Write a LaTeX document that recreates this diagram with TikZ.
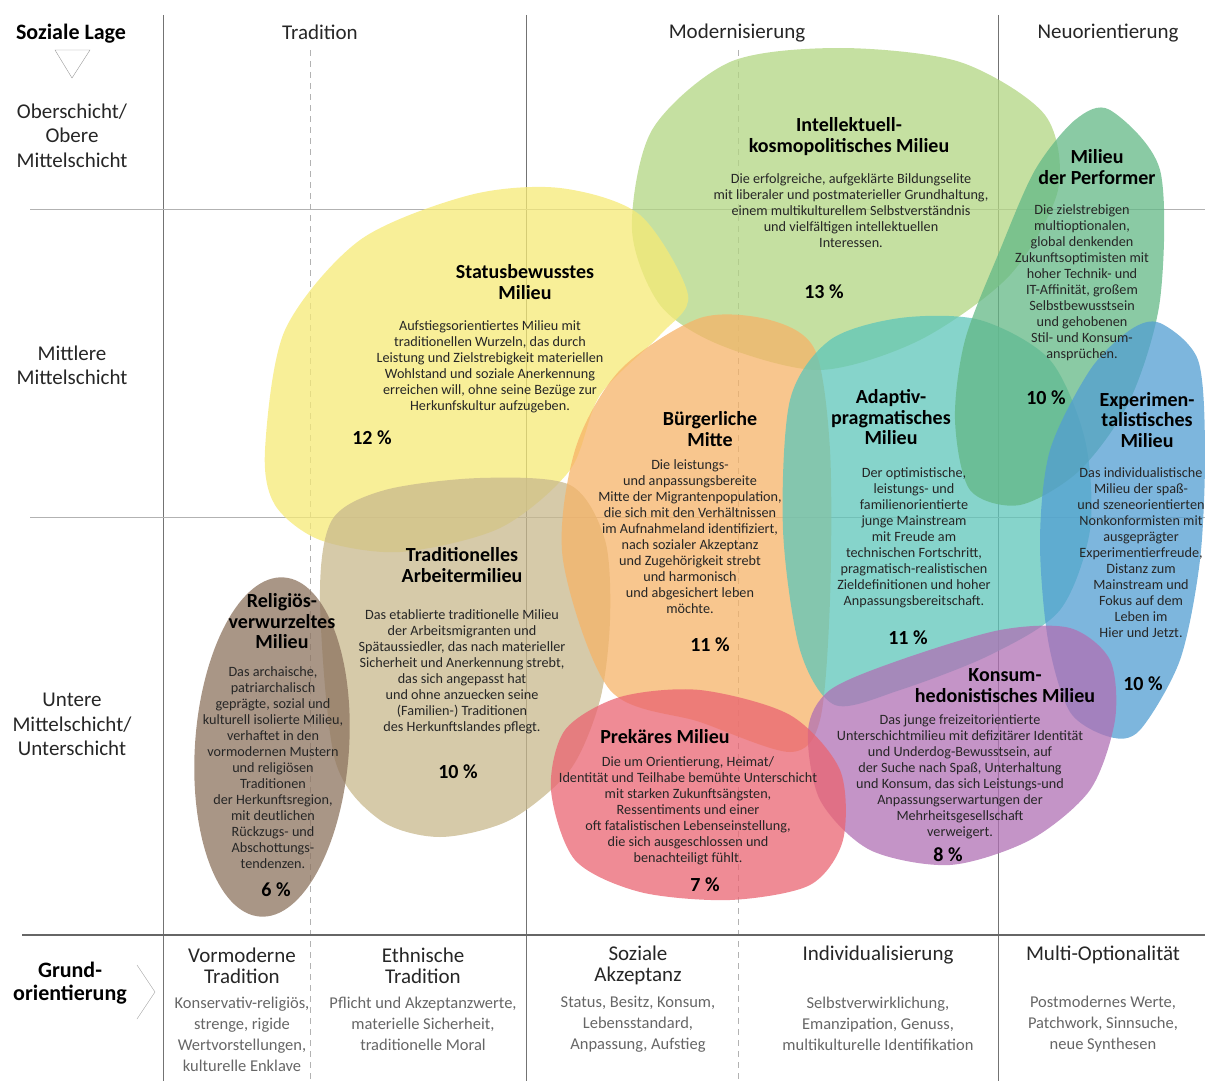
\documentclass[tikz,border=0pt]{standalone}
\usepackage{fontspec}
\setmainfont{Carlito}
\definecolor{intellgreen}{HTML}{B2D682}
\definecolor{perfgreen}{HTML}{63B886}
\definecolor{statusyellow}{HTML}{F6EA76}
\definecolor{arbeitertan}{HTML}{C8B88C}
\definecolor{religbrown}{HTML}{8C735E}
\definecolor{buergerorange}{HTML}{F6B368}
\definecolor{adaptivteal}{HTML}{5EC6BA}
\definecolor{experblue}{HTML}{529ED2}
\definecolor{konsumpurple}{HTML}{B070B4}
\definecolor{prekaerred}{HTML}{EA6471}

\begin{document}
\begin{tikzpicture}[x=1pt,y=-1pt,
    ttl/.style={font=\fontsize{20}{20.5}\selectfont\bfseries,align=center,inner sep=0pt},
    txt/.style={font=\fontsize{14.2}{16}\selectfont,align=center,inner sep=0pt,text=black!85},
    pct/.style={font=\fontsize{20}{20}\selectfont\bfseries,inner sep=0pt},
    hdr/.style={font=\fontsize{21}{24.5}\selectfont,align=center,inner sep=0pt,text=black!85},
    sub/.style={font=\fontsize{16.5}{21}\selectfont,align=center,inner sep=0pt,text=black!60},
    grid/.style={draw=black!30,line width=0.8pt},
    axis/.style={draw=black!55,line width=0.8pt},
    blob/.style={fill opacity=0.75}]
\useasboundingbox (0,0) rectangle (1205,1081);

\draw[axis] (163,15) -- (163,1081);
\draw[axis] (526,15) -- (526,1081);
\draw[axis] (998,15) -- (998,1081);
\draw[grid,dash pattern=on 6pt off 5pt] (310,50) -- (310,1081);
\draw[grid,dash pattern=on 6pt off 5pt] (738,50) -- (738,1081);
\draw[grid] (30,209) -- (1205,209);
\draw[grid] (30,517) -- (1205,517);
\draw[draw=black!60,line width=1.2pt] (22,935) -- (1205,935);

\fill[blob,intellgreen] plot[smooth cycle] coordinates {(632,230) (652,130) (730,62) (840,48) (960,62) (1045,115) (1058,190) (1010,275) (920,340) (820,370) (720,345) (660,305)};
\fill[blob,statusyellow] plot[smooth cycle] coordinates {(265,450) (285,330) (360,240) (470,195) (560,188) (640,215) (688,295) (660,335) (600,395) (570,470) (500,528) (400,552) (320,540) (275,505)};
\fill[blob,arbeitertan] plot[smooth cycle] coordinates {(320,600) (332,520) (385,490) (480,478) (570,485) (605,540) (610,620) (600,700) (570,770) (510,820) (440,837) (380,820) (335,760)};
\fill[blob,religbrown,rotate around={-4:(272,747)}] (272,747) ellipse [x radius=77, y radius=170];
\fill[blob,buergerorange] plot[smooth cycle] coordinates {(575,450) (620,370) (700,318) (770,320) (815,350) (830,450) (830,600) (820,720) (790,752) (700,722) (610,690) (563,560)};
\fill[blob,adaptivteal] plot[smooth cycle] coordinates {(790,400) (830,340) (900,318) (980,320) (1050,360) (1085,440) (1090,530) (1060,610) (990,655) (900,690) (835,705) (800,650) (783,530)};
\fill[blob,perfgreen] plot[smooth cycle] coordinates {(1110,110) (1160,170) (1160,300) (1130,400) (1080,470) (1020,505) (970,490) (955,420) (965,340) (1000,250) (1035,170) (1075,120)};
\fill[blob,experblue] plot[smooth cycle] coordinates {(1160,323) (1198,360) (1205,450) (1200,560) (1180,660) (1140,730) (1110,737) (1070,712) (1048,640) (1040,540) (1050,450) (1090,370) (1130,330)};
\fill[blob,konsumpurple] plot[smooth cycle] coordinates {(808,730) (830,690) (900,660) (1000,630) (1070,628) (1110,660) (1115,720) (1090,790) (1030,840) (950,865) (870,850) (820,800)};
\fill[blob,prekaerred] plot[smooth cycle] coordinates {(551,790) (565,730) (620,697) (700,690) (790,715) (840,770) (843,840) (810,885) (730,900) (640,892) (575,860)};

\node[font=\fontsize{22}{24}\selectfont\bfseries,inner sep=0pt] (lage) at (71,34) {Soziale Lage};
\draw[draw=black!40] (55,50) -- (90,50) -- (72,78) -- cycle;
\node[hdr] (ober) at (72,135.5) {Oberschicht/\\Obere\\Mittelschicht};
\node[hdr] (mittel) at (72,365.5) {Mittlere\\Mittelschicht};
\node[hdr] (unter) at (72,724.5) {Untere\\Mittelschicht/\\Unterschicht};
\node[hdr] (trad) at (320,32) {Tradition};
\node[hdr] (mod) at (737,33) {Modernisierung};
\node[hdr] (neu) at (1108,33) {Neuorientierung};

\node[ttl] (intellT) at (849,136.5) {Intellektuell-\\kosmopolitisches Milieu};
\node[txt] (intellB) at (851,211) {Die erfolgreiche, aufgeklärte Bildungselite\\mit liberaler und postmaterieller Grundhaltung,\\einem multikulturellem Selbstverständnis\\und vielfältigen intellektuellen\\Interessen.};
\node[pct] (intellP) at (824,292) {13 \%};

\node[ttl] (perfT) at (1097,167) {Milieu\\der Performer};
\node[txt] (perfB) at (1082,283) {Die zielstrebigen\\multioptionalen,\\global denkenden\\Zukunftsoptimisten mit\\hoher Technik- und\\IT-Affinität, großem\\Selbstbewusstsein\\und gehobenen\\Stil- und Konsum-\\ansprüchen.};
\node[pct] (perfP) at (1046,398) {10 \%};

\node[ttl] (statusT) at (525,282) {Statusbewusstes\\Milieu};
\node[txt] (statusB) at (490,367) {Aufstiegsorientiertes Milieu mit\\traditionellen Wurzeln, das durch\\Leistung und Zielstrebigkeit materiellen\\Wohlstand und soziale Anerkennung\\erreichen will, ohne seine Bezüge zur\\Herkunfskultur aufzugeben.};
\node[pct] (statusP) at (372,438) {12 \%};

\node[ttl] (buergerT) at (710,429) {Bürgerliche\\Mitte};
\node[txt] (buergerB) at (690,536.5) {Die leistungs-\\und anpassungsbereite\\Mitte der Migrantenpopulation,\\die sich mit den Verhältnissen\\im Aufnahmeland identifiziert,\\nach sozialer Akzeptanz\\und Zugehörigkeit strebt\\und harmonisch\\und abgesichert leben\\möchte.};
\node[pct] (buergerP) at (710,645) {11 \%};

\node[ttl] (adaptT) at (891,417.5) {Adaptiv-\\pragmatisches\\Milieu};
\node[txt] (adaptB) at (914,537.5) {Der optimistische,\\leistungs- und\\familienorientierte\\junge Mainstream\\mit Freude am\\technischen Fortschritt,\\pragmatisch-realistischen\\Zieldefinitionen und hoher\\Anpassungsbereitschaft.};
\node[pct] (adaptP) at (908,638) {11 \%};

\node[ttl] (experT) at (1147,420) {Experimen-\\talistisches\\Milieu};
\node[txt] (experB) at (1141,553) {Das individualistische\\Milieu der spaß-\\und szeneorientierten\\Nonkonformisten mit\\ausgeprägter\\Experimentierfreude,\\Distanz zum\\Mainstream und\\Fokus auf dem\\Leben im\\Hier und Jetzt.};
\node[pct] (experP) at (1143,684) {10 \%};

\node[ttl] (religT) at (282,621.5) {Religiös-\\verwurzeltes\\Milieu};
\node[txt] (religB) at (273,767.5) {Das archaische,\\patriarchalisch\\geprägte, sozial und\\kulturell isolierte Milieu,\\verhaftet in den\\vormodernen Mustern\\und religiösen\\Traditionen\\der Herkunftsregion,\\mit deutlichen\\Rückzugs- und\\Abschottungs-\\tendenzen.};
\node[pct] (religP) at (276,890) {6 \%};

\node[ttl] (arbT) at (462,565) {Traditionelles\\Arbeitermilieu};
\node[txt] (arbB) at (462,671.5) {Das etablierte traditionelle Milieu\\der Arbeitsmigranten und\\Spätaussiedler, das nach materieller\\Sicherheit und Anerkennung strebt,\\das sich angepasst hat\\und ohne anzuecken seine\\(Familien-) Traditionen\\des Herkunftslandes pflegt.};
\node[pct] (arbP) at (458,772) {10 \%};

\node[ttl] (prekT) at (665,737) {Prekäres Milieu};
\node[txt] (prekB) at (688,810.5) {Die um Orientierung, Heimat/\\Identität und Teilhabe bemühte Unterschicht\\mit starken Zukunftsängsten,\\Ressentiments und einer\\oft fatalistischen Lebenseinstellung,\\die sich ausgeschlossen und\\benachteiligt fühlt.};
\node[pct] (prekP) at (705,885) {7 \%};

\node[ttl] (konsT) at (1005,685.5) {Konsum-\\hedonistisches Milieu};
\node[txt] (konsB) at (960,776.5) {Das junge freizeitorientierte\\Unterschichtmilieu mit defizitärer Identität\\und Underdog-Bewusstsein, auf\\der Suche nach Spaß, Unterhaltung\\und Konsum, das sich Leistungs-und\\Anpassungserwartungen der\\Mehrheitsgesellschaft\\verweigert.};
\node[pct] (konsP) at (948,855) {8 \%};

\node[font=\fontsize{22}{23}\selectfont\bfseries,align=center,inner sep=0pt] (grund) at (70,983.5) {Grund-\\orientierung};
\draw[draw=black!40] (137,965) -- (155,992) -- (137,1019);

\node[hdr,font=\fontsize{21}{21}\selectfont] (vorm) at (242,965.5) {Vormoderne\\Tradition};
\node[sub] (vormS) at (242,1034) {Konservativ-religiös,\\strenge, rigide\\Wertvorstellungen,\\kulturelle Enklave};
\node[hdr,font=\fontsize{21}{21}\selectfont] (ethn) at (423,965.5) {Ethnische\\Tradition};
\node[sub] (ethnS) at (423,1024) {Pflicht und Akzeptanzwerte,\\materielle Sicherheit,\\traditionelle Moral};
\node[hdr,font=\fontsize{21}{21}\selectfont] (akz) at (638,965.5) {Soziale\\Akzeptanz};
\node[sub] (akzS) at (638,1024) {Status, Besitz, Konsum,\\Lebensstandard,\\Anpassung, Aufstieg};
\node[hdr] (indiv) at (878,955) {Individualisierung};
\node[sub] (indivS) at (878,1024) {Selbstverwirklichung,\\Emanzipation, Genuss,\\multikulturelle Identifikation};
\node[hdr] (multi) at (1103,955) {Multi-Optionalität};
\node[sub] (multiS) at (1103,1024) {Postmodernes Werte,\\Patchwork, Sinnsuche,\\neue Synthesen};
\end{tikzpicture}
\end{document}
